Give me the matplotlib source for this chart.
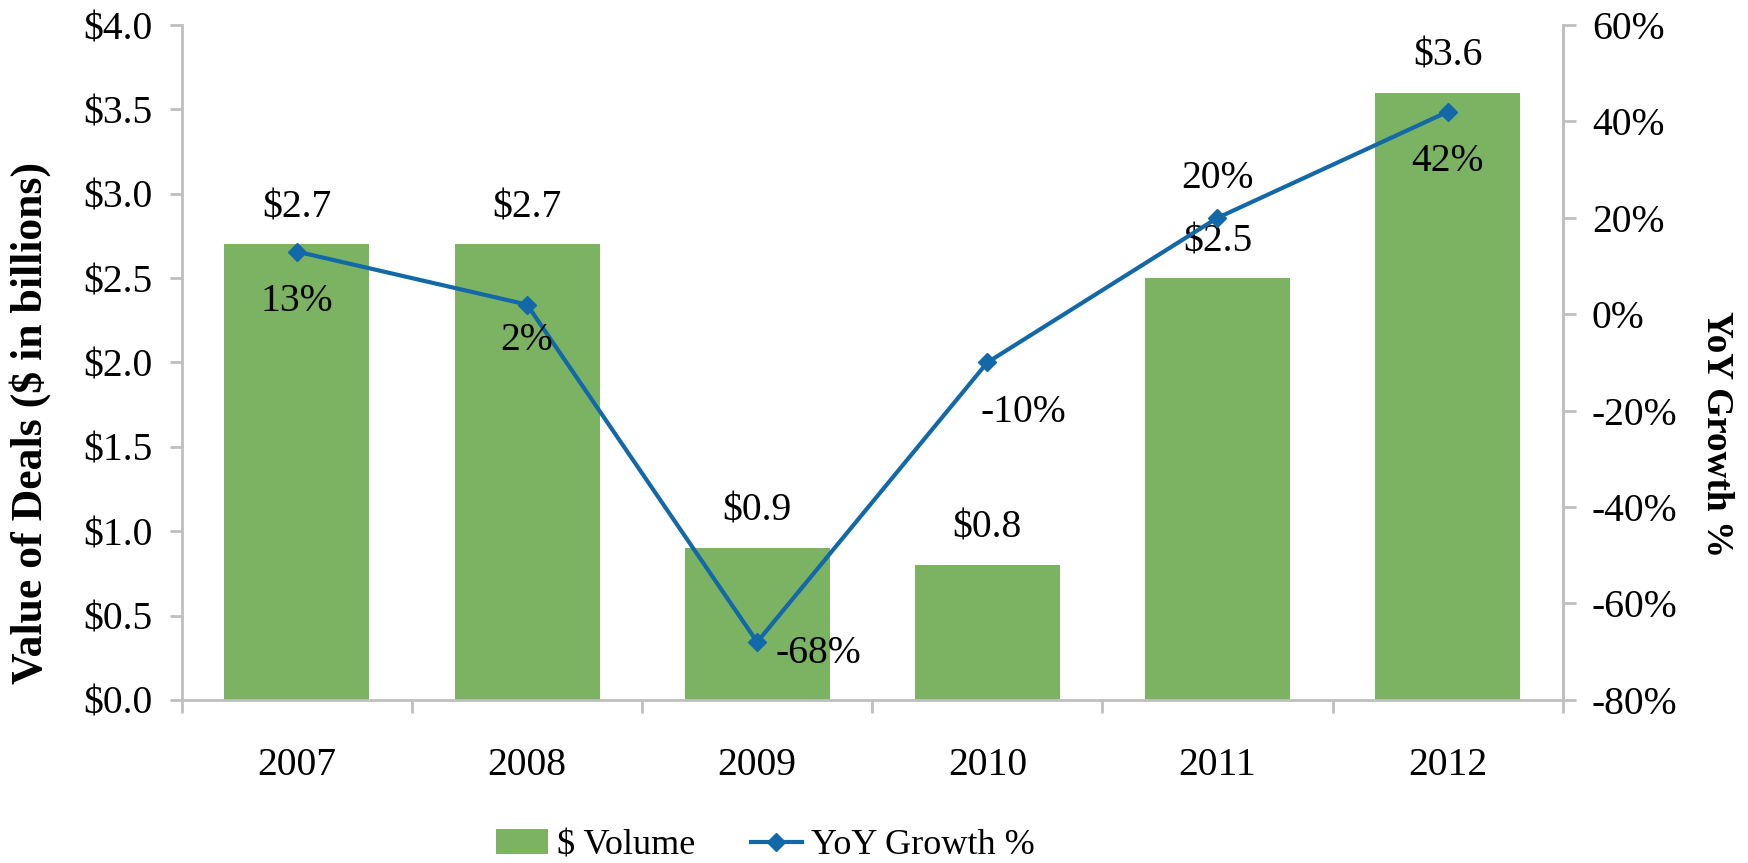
import matplotlib
matplotlib.use("Agg")
import matplotlib.pyplot as plt
from matplotlib.ticker import FuncFormatter, FixedLocator
import numpy as np

years = ["2007", "2008", "2009", "2010", "2011", "2012"]
volume = [2.7, 2.7, 0.9, 0.8, 2.5, 3.6]
growth = [13, 2, -68, -10, 20, 42]
growth_labels = ["13%", "2%", "-68%", "-10%", "20%", "42%"]
# label offsets in points (dx, dy) for growth labels
growth_offsets = [(0, -36), (0, -26), (44, -8), (26, -36), (0, 28), (0, -36)]

plt.rcParams['font.family'] = ['Liberation Serif', 'DejaVu Serif']

GREEN = '#7BB363'
BLUE = '#1268A8'
GREY = '#BFBFBF'
FS = 28.5

fig = plt.figure(figsize=(17.48, 8.63), dpi=100)
ax = fig.add_axes([0.104, 0.189, 0.790, 0.782])
x = np.arange(len(years))
ax.bar(x, volume, width=0.63, color=GREEN, label='$ Volume', zorder=2)
ax.set_xlim(-0.5, len(years) - 0.5)
ax.set_ylim(0, 4.0)
ax.set_yticks(np.arange(0, 4.01, 0.5))
ax.yaxis.set_major_formatter(FuncFormatter(lambda v, p: f"${v:.1f}"))
ax.set_xticks(x)
ax.set_xticklabels(years)
ax.xaxis.set_minor_locator(FixedLocator(np.arange(-0.5, len(years), 1.0)))
ax.tick_params(axis='x', which='major', length=0, pad=34, labelsize=FS)
ax.tick_params(axis='x', which='minor', length=9, width=2, color=GREY, direction='out')
ax.tick_params(axis='y', length=9, width=2, color=GREY, labelsize=FS, pad=12)
ax.spines['top'].set_visible(False)
for s in ['left', 'right', 'bottom']:
    ax.spines[s].set_color(GREY)
    ax.spines[s].set_linewidth(2)

for xi, v in zip(x, volume):
    ax.annotate(f"${v:.1f}", (xi, v), xytext=(0, 13), textcoords='offset points',
                ha='center', va='bottom', fontsize=FS)

ax2 = ax.twinx()
ax2.plot(x, growth, color=BLUE, lw=3, marker='D', markersize=9, label='YoY Growth %', zorder=3)
ax2.set_ylim(-80, 60)
ax2.set_yticks(np.arange(-80, 61, 20))
ax2.yaxis.set_major_formatter(FuncFormatter(lambda v, p: f"{int(v)}%"))
ax2.tick_params(axis='y', length=9, width=2, color=GREY, labelsize=FS, pad=12)
for s in ['top', 'left', 'bottom']:
    ax2.spines[s].set_visible(False)
ax2.spines['right'].set_color(GREY)
ax2.spines['right'].set_linewidth(2)

for xi, g, lab, (dx, dy) in zip(x, growth, growth_labels, growth_offsets):
    ax2.annotate(lab, (xi, g), xytext=(dx, dy), textcoords='offset points',
                 ha='center', va='center', fontsize=FS)

fig.text(0.017, 0.51, 'Value of Deals ($ in billions)', rotation=90, ha='center', va='center',
         fontsize=31.5, fontweight='bold')
fig.text(0.982, 0.497, 'YoY Growth %', rotation=270, ha='center', va='center',
         fontsize=26.8, fontweight='bold')

h1, l1 = ax.get_legend_handles_labels()
h2, l2 = ax2.get_legend_handles_labels()
fig.legend(h1 + h2, l1 + l2, loc='center', bbox_to_anchor=(0.438, 0.02), ncol=2,
           frameon=False, fontsize=26, handlelength=1.42, handleheight=0.7,
           columnspacing=1.55, handletextpad=0.25, borderpad=0, borderaxespad=0)

fig.savefig('out.png', dpi=100)
